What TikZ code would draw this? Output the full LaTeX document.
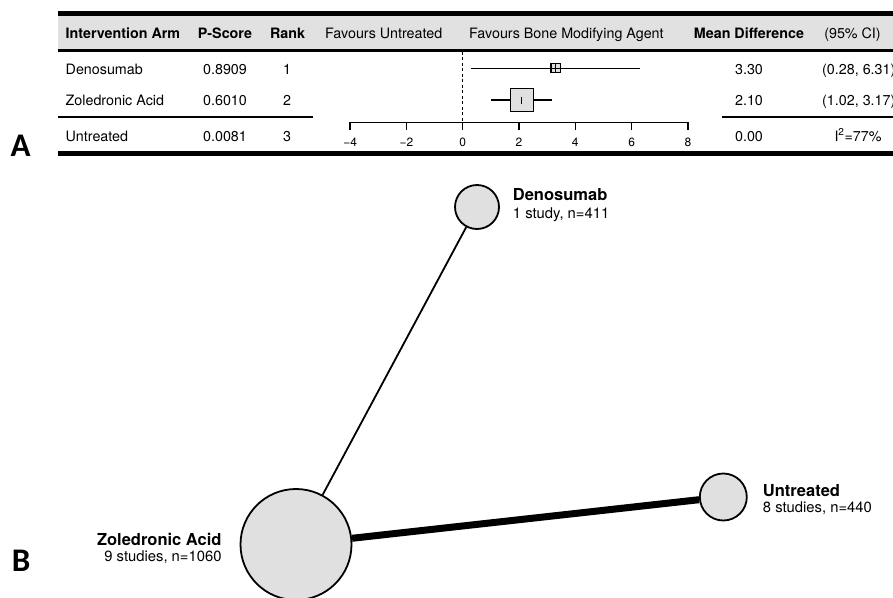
\documentclass[tikz,border=0pt]{standalone}
\usepackage{fontspec}
\setmainfont{TeX Gyre Heros}
\newfontfamily\labfont{Carlito}
\definecolor{hdrgray}{HTML}{E1E1E1}
\definecolor{nodegray}{HTML}{E0E0E0}
\begin{document}
\begin{tikzpicture}[x=1pt,y=-1pt,
  tab/.style={font=\fontsize{14.3}{17}\selectfont, inner sep=0pt, anchor=base west},
  tabc/.style={tab, anchor=base},
  tabh/.style={font=\fontsize{14.3}{17}\selectfont\bfseries, inner sep=0pt, anchor=base west},
  tabhc/.style={tabh, anchor=base},
  tk/.style={font=\fontsize{12}{14}\selectfont, inner sep=0pt, anchor=base},
  netb/.style={font=\fontsize{16.5}{19}\selectfont\bfseries, inner sep=0pt},
  nets/.style={font=\fontsize{14.8}{17}\selectfont, inner sep=0pt},
  panel/.style={font=\labfont\bfseries\fontsize{33}{36}\selectfont, inner sep=0pt, anchor=base},
  netnode/.style={circle, draw, fill=nodegray, line width=1.8pt, inner sep=0pt},
  rule/.style={line width=#1}
]
\useasboundingbox (0,0) rectangle (893,597);

% ---------- Panel A ----------
\fill[hdrgray] (58,16) rectangle (893,49.5);
\draw[rule=5pt] (58,13.5) -- (893,13.5);
\draw[rule=2.8pt] (58,50.5) -- (893,50.5);
\draw[rule=2.5pt] (58,117) -- (313,117);
\draw[rule=2.5pt] (722,117) -- (893,117);
\draw[rule=5pt] (58,153.5) -- (893,153.5);

\node[panel] (la) at (20.5,156) {A};

% header
\node[tabh] (h1) at (65.5,38.3) {Intervention Arm};
\node[tabhc] (h2) at (225,38.3) {P-Score};
\node[tabhc] (h3) at (287.5,38.3) {Rank};
\node[tab] (h4) at (325,38.3) {Favours Untreated};
\node[tab] (h5) at (469,38.3) {Favours Bone Modifying Agent};
\node[tabhc] (h6) at (749,38.3) {Mean Difference};
\node[tabc] (h7) at (852.5,38.3) {(95\% CI)};

% rows
\node[tab] (r1a) at (65.5,74) {Denosumab};
\node[tabc] (r1b) at (225,74) {0.8909};
\node[tabc] (r1c) at (287,74) {1};
\node[tabc] (r1d) at (749,74) {3.30};
\node[tab] (r1e) at (822,74) {(0.28, 6.31)};

\node[tab] (r2a) at (65.5,105.5) {Zoledronic Acid};
\node[tabc] (r2b) at (225,105.5) {0.6010};
\node[tabc] (r2c) at (287,105.5) {2};
\node[tabc] (r2d) at (749,105.5) {2.10};
\node[tab] (r2e) at (822,105.5) {(1.02, 3.17)};

\node[tab] (r3a) at (65.5,141) {Untreated};
\node[tabc] (r3b) at (225,141) {0.0081};
\node[tabc] (r3c) at (287,141) {3};
\node[tabc] (r3d) at (749,141) {0.00};
\node[tabc] (r3e) at (858,141) {I\textsuperscript{2}=77\%};

% forest plot
\draw[line width=1.2pt, dash pattern=on 3pt off 2.5pt] (462.7,51.5) -- (462.7,122.7);
\draw[line width=1.5pt] (350,122.7) -- (687,122.7);
\foreach \v/\lab in {-4/{−4},-2/{−2},0/0,2/2,4/4,6/6,8/8}{
  \draw[line width=1.5pt] ({462.7+28.15*\v},122) -- ({462.7+28.15*\v},129.5);
  \node[tk] at ({462.7+28.15*\v},146) {\lab};
}
% Denosumab
\draw[line width=1.4pt] (470.6,68.3) -- (640.3,68.3);
\draw[line width=1.1pt, fill=nodegray] (551,63.7) rectangle (560.2,72.9);
\draw[line width=0.8pt] (555.6,63.7) -- (555.6,72.9);
\draw[line width=0.8pt] (551,68.3) -- (560.2,68.3);
% Zoledronic
\draw[line width=1.5pt, fill=nodegray] (510.3,88.5) rectangle (533.3,111.5);
\draw[line width=1.4pt] (491.4,100) -- (510.3,100);
\draw[line width=1.4pt] (533.3,100) -- (551.9,100);
\draw[line width=1.2pt] (521.8,96.5) -- (521.8,103.5);

% ---------- Panel B ----------
\node[panel, anchor=base west] (lb) at (11.7,571.7) {B};

\node[netnode, minimum size=44pt] (den) at (477,207) {};
\node[netnode, minimum size=111pt] (zol) at (296,544.5) {};
\node[netnode, minimum size=47pt] (unt) at (723.3,497) {};

\draw[line width=1.8pt] (den) -- (zol);
\draw[line width=7pt] (zol) -- (unt);

\node[netb, anchor=base west] (denl) at (512.7,200.5) {Denosumab};
\node[nets, anchor=base west] (dens) at (512.7,218.3) {1 study, n=411};
\node[netb, anchor=base east] (zoll) at (221.7,545) {Zoledronic Acid};
\node[nets, anchor=base east] (zols) at (221.7,561.7) {9 studies, n=1060};
\node[netb, anchor=base west] (untl) at (762.7,496) {Untreated};
\node[nets, anchor=base west] (unts) at (762.7,512) {8 studies, n=440};
\end{tikzpicture}
\end{document}
